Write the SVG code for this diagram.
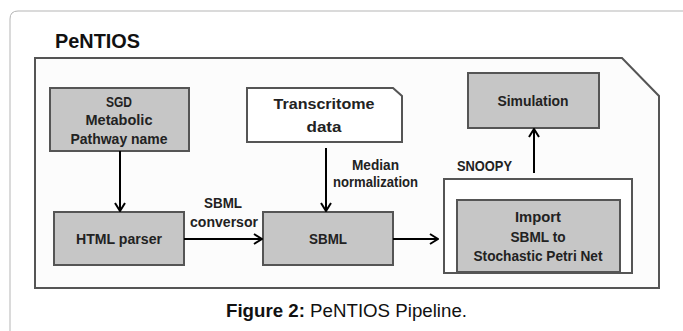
<svg xmlns="http://www.w3.org/2000/svg" width="683" height="331" viewBox="0 0 683 331">
<defs>
<style>
.lbl{font-family:"Liberation Sans",Arial,sans-serif;font-weight:bold;fill:#222;text-anchor:middle;font-size:14px}
.box{fill:#c6c6c6;stroke:#555;stroke-width:2}
.wbox{fill:#fff;stroke:#555;stroke-width:2}
.conn{stroke:#000;stroke-width:2;fill:none}
</style>
<marker id="ah" viewBox="0 0 10 12" refX="9" refY="6" markerWidth="10" markerHeight="12" markerUnits="userSpaceOnUse" orient="auto">
<path d="M1,1 L9,6 L1,11" fill="none" stroke="#000" stroke-width="2"/>
</marker>
</defs>
<rect width="683" height="331" fill="#fff"/>
<path d="M10,331 L10,19 Q10,11 18,11 L683,11" fill="none" stroke="#b5b5b5" stroke-width="1"/>
<g id="panel">
<path d="M35,58 L622,58 L659,96 L659,288 L35,288 Z" fill="#fcfcfc" stroke="#555" stroke-width="2"/>
<text x="55" y="48" font-family="'Liberation Sans',Arial,sans-serif" font-weight="bold" font-size="21" fill="#111" textLength="85" lengthAdjust="spacingAndGlyphs">PeNTIOS</text>
</g>
<g id="sgd">
<rect class="box" x="50" y="88" width="139" height="63"/>
<text class="lbl" x="119" y="107" textLength="26" lengthAdjust="spacingAndGlyphs">SGD</text>
<text class="lbl" x="119" y="125" textLength="67" lengthAdjust="spacingAndGlyphs">Metabolic</text>
<text class="lbl" x="119" y="144" textLength="97" lengthAdjust="spacingAndGlyphs">Pathway name</text>
</g>
<g id="html">
<rect class="box" x="54" y="212" width="130" height="53"/>
<text class="lbl" x="119" y="244" textLength="86" lengthAdjust="spacingAndGlyphs">HTML parser</text>
</g>
<g id="transcritome">
<path class="wbox" d="M247,88 L393,88 L402,96 L402,142 L247,142 Z"/>
<text class="lbl" x="324" y="109" font-size="16" textLength="101" lengthAdjust="spacingAndGlyphs">Transcritome</text>
<text class="lbl" x="324" y="132" font-size="16" textLength="35" lengthAdjust="spacingAndGlyphs">data</text>
</g>
<g id="sbml">
<rect class="box" x="263" y="212" width="130" height="53"/>
<text class="lbl" x="328" y="244" textLength="38" lengthAdjust="spacingAndGlyphs">SBML</text>
</g>
<g id="snoopy">
<rect class="wbox" x="444" y="179" width="188" height="94"/>
<text class="lbl" x="484.500" y="171" textLength="55" lengthAdjust="spacingAndGlyphs">SNOOPY</text>
<rect class="box" x="457" y="200" width="163" height="72"/>
<text class="lbl" x="538" y="222" textLength="46" lengthAdjust="spacingAndGlyphs">Import</text>
<text class="lbl" x="538" y="242" textLength="55" lengthAdjust="spacingAndGlyphs">SBML to</text>
<text class="lbl" x="538" y="261" textLength="129" lengthAdjust="spacingAndGlyphs">Stochastic Petri Net</text>
</g>
<g id="simulation">
<rect class="box" x="468" y="73" width="131" height="55"/>
<text class="lbl" x="533" y="106" textLength="71" lengthAdjust="spacingAndGlyphs">Simulation</text>
</g>
<g id="connectors">
<line class="conn" x1="120" y1="151" x2="120" y2="211" marker-end="url(#ah)"/>
<line class="conn" x1="184" y1="239" x2="262" y2="239" marker-end="url(#ah)"/>
<line class="conn" x1="326" y1="148" x2="326" y2="211" marker-end="url(#ah)"/>
<line class="conn" x1="393" y1="239" x2="438" y2="239" marker-end="url(#ah)"/>
<line class="conn" x1="534" y1="173" x2="534" y2="129" marker-end="url(#ah)"/>
<text class="lbl" x="223" y="208" textLength="38" lengthAdjust="spacingAndGlyphs">SBML</text>
<text class="lbl" x="224" y="227" textLength="68" lengthAdjust="spacingAndGlyphs">conversor</text>
<text class="lbl" x="375.500" y="170" textLength="47" lengthAdjust="spacingAndGlyphs">Median</text>
<text class="lbl" x="375.500" y="187" textLength="85" lengthAdjust="spacingAndGlyphs">normalization</text>
</g>
<text x="226" y="317" font-family="'Liberation Sans',Arial,sans-serif" font-size="18" fill="#111" textLength="241" lengthAdjust="spacingAndGlyphs"><tspan font-weight="bold">Figure 2:</tspan> PeNTIOS Pipeline.</text>
</svg>
